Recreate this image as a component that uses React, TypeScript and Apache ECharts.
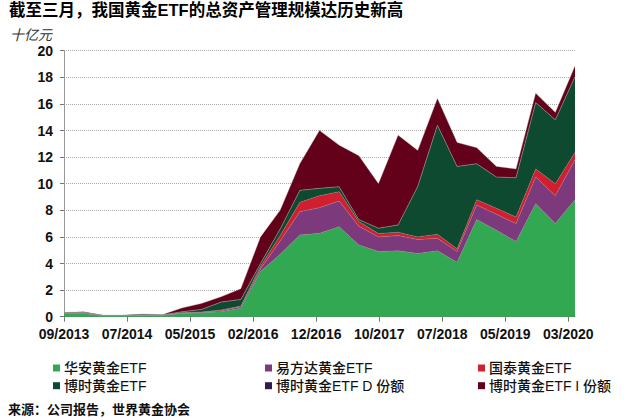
import { useEffect, useRef } from 'react'
import * as echarts from 'echarts'

// 季度数据：2013Q3 - 2020Q1（十亿元）
const quarters = ['2013Q3', '2013Q4', '2014Q1', '2014Q2', '2014Q3', '2014Q4', '2015Q1', '2015Q2', '2015Q3', '2015Q4', '2016Q1', '2016Q2', '2016Q3', '2016Q4', '2017Q1', '2017Q2', '2017Q3', '2017Q4', '2018Q1', '2018Q2', '2018Q3', '2018Q4', '2019Q1', '2019Q2', '2019Q3', '2019Q4', '2020Q1']

const xTickLabels = ['09/2013', '07/2014', '05/2015', '02/2016', '12/2016', '10/2017', '07/2018', '05/2019', '03/2020']
const xTickStep = 3.2075 // 每个刻度相隔的季度数
const yTicks = [0, 2, 4, 6, 8, 10, 12, 14, 16, 18, 20]

const huaan = [0.25, 0.25, 0.08, 0.08, 0.1, 0.1, 0.25, 0.3, 0.38, 0.63, 3.4, 4.7, 6.15, 6.27, 6.77, 5.4, 4.9, 4.95, 4.75, 4.95, 4.1, 7.3, 6.5, 5.65, 8.5, 7.0, 8.8]
const yifangda = [0.02, 0.05, 0.01, 0.01, 0.02, 0.01, 0.03, 0.03, 0.07, 0.12, 0.2, 1.0, 1.75, 1.93, 1.93, 1.4, 1.1, 1.15, 1.05, 0.95, 0.8, 1.1, 1.2, 1.35, 2.0, 2.1, 3.0]
const guotai = [0.01, 0.01, 0, 0, 0.01, 0.01, 0.02, 0.02, 0.05, 0.05, 0.2, 0.4, 0.7, 0.9, 0.7, 0.35, 0.25, 0.25, 0.2, 0.3, 0.2, 0.4, 0.45, 0.5, 0.6, 0.9, 0.55]
const boshi = [0.01, 0.01, 0.01, 0.01, 0.02, 0.01, 0.07, 0.2, 0.6, 0.5, 0.2, 0.5, 0.9, 0.55, 0.37, 0.15, 0.4, 0.55, 3.8, 8.2, 6.2, 2.7, 2.35, 2.95, 5.0, 4.8, 5.7]
const boshiD = [0, 0, 0, 0, 0, 0, 0, 0, 0, 0, 0, 0, 0, 0, 0, 0, 0, 0, 0, 0, 0, 0, 0, 0, 0, 0, 0]
const boshiI = [0.03, 0.05, 0, 0, 0.05, 0.02, 0.28, 0.45, 0.4, 0.8, 2.0, 1.4, 2.0, 4.35, 3.13, 4.8, 3.35, 6.75, 2.7, 2.0, 1.8, 1.2, 0.8, 0.65, 0.7, 0.55, 0.8]

const seriesNames = ['华安黄金ETF', '易方达黄金ETF', '国泰黄金ETF', '博时黄金ETF', '博时黄金ETF D 份额', '博时黄金ETF I 份额']
const seriesColors = ['#33a852', '#7c3a7d', '#d21f30', '#0e4a30', '#2d1b52', '#63001a']
const seriesData = [huaan, yifangda, guotai, boshi, boshiD, boshiI]

// 图例：两行三列
const legendCols = [53, 265, 478]
const legendRows = [360, 377.7]

const FONT = '"Liberation Sans", Arial, "Noto Sans CJK SC", sans-serif'

export default function App() {
  const ref = useRef<HTMLDivElement>(null)

  useEffect(() => {
    if (!ref.current) return
    const chart = echarts.init(ref.current, undefined, { renderer: 'svg' })

    const xTickValues = xTickLabels.map((_, k) => k * xTickStep)

    chart.setOption({
      animation: false,
      backgroundColor: '#fff',
      textStyle: { fontFamily: FONT },
      graphic: [
        {
          type: 'text',
          left: 9,
          top: 2,
          style: { text: '截至三月，我国黄金ETF的总资产管理规模达历史新高', fontSize: 16.5, fontWeight: 'bold', fill: '#000', fontFamily: FONT },
        },
        {
          type: 'text',
          left: 10,
          top: 28,
          style: { text: '十亿元', fontSize: 14, fontStyle: 'italic', fill: '#333', fontFamily: FONT },
        },
        {
          type: 'text',
          left: 8,
          top: 403,
          style: { text: '来源：公司报告，世界黄金协会', fontSize: 13, fontWeight: 'bold', fill: '#111', fontFamily: FONT },
        },
      ],
      legend: seriesNames.map((name, k) => ({
        left: legendCols[k % 3],
        top: legendRows[Math.floor(k / 3)],
        padding: 0,
        icon: 'rect',
        itemWidth: 7,
        itemHeight: 7,
        selectedMode: false,
        data: [name],
        textStyle: { fontFamily: FONT, fontSize: 14, fontWeight: 500, color: '#111', lineHeight: 16, padding: [0, 0, 0, -1] },
      })),
      grid: { left: 64, right: 57, top: 50.7, bottom: 103.3, containLabel: false },
      xAxis: [
        {
          type: 'category',
          data: quarters,
          boundaryGap: false,
          position: 'bottom',
          show: false,
        },
        {
          type: 'value',
          min: 0,
          max: quarters.length - 1,
          position: 'bottom',
          splitLine: { show: false },
          axisLine: { lineStyle: { color: '#777', width: 1 } },
          axisTick: { customValues: xTickValues, length: 5, lineStyle: { color: '#777' } },
          axisLabel: {
            customValues: xTickValues,
            margin: 10,
            fontSize: 14,
            fontWeight: 'bold',
            color: '#111',
            fontFamily: FONT,
            formatter: (v: number) => xTickLabels[Math.round(v / xTickStep)] ?? '',
          },
        },
      ],
      yAxis: {
        type: 'value',
        min: yTicks[0],
        max: yTicks[yTicks.length - 1],
        interval: 2,
        axisLine: { show: true, lineStyle: { color: '#999', width: 1 } },
        axisTick: { show: true, length: 4, lineStyle: { color: '#777' } },
        splitLine: { lineStyle: { color: '#aaa', type: [1, 1], width: 1 } },
        axisLabel: { margin: 11, fontSize: 14, fontWeight: 'bold', color: '#111', fontFamily: FONT },
      },
      series: seriesNames.map((name, k) => ({
        name,
        type: 'line',
        xAxisIndex: 0,
        stack: 'total',
        symbol: 'none',
        data: seriesData[k],
        itemStyle: { color: seriesColors[k] },
        lineStyle: { width: 0.5, color: 'rgba(150,150,150,0.7)' },
        areaStyle: { color: seriesColors[k], opacity: 1 },
      })),
    })

    return () => chart.dispose()
  }, [])

  return <div ref={ref} style={{ position: 'absolute', left: 0, top: 0, width: 632, height: 420 }} />
}
